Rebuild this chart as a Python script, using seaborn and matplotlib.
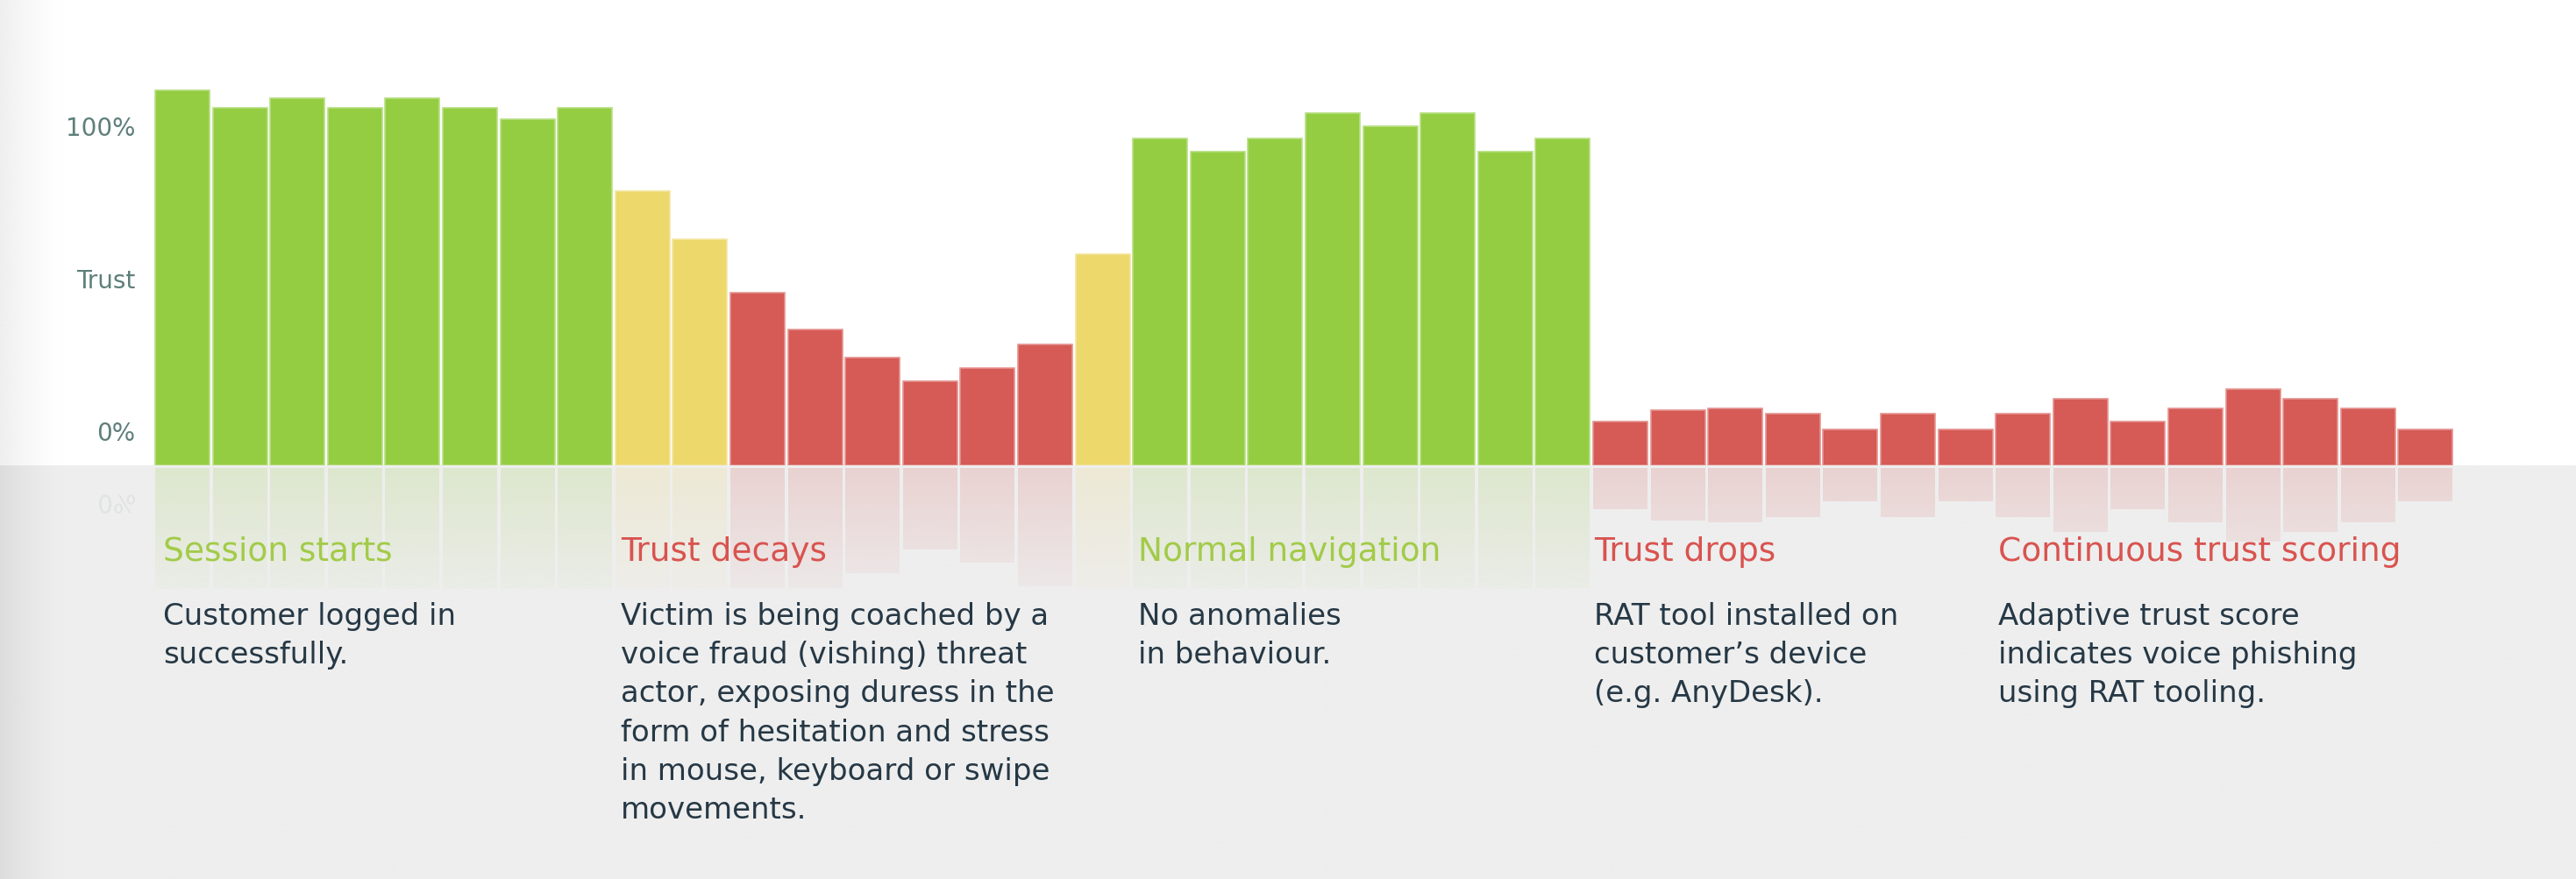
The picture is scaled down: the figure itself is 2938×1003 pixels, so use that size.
'''
    Trust score over a session, with reflected bars and phase notes
'''

# --
# Dependancies

import matplotlib
matplotlib.use('Agg')
import matplotlib.pyplot as plt
import matplotlib.colors as mcolors
from matplotlib.textpath import TextPath
from matplotlib.patches import PathPatch
from matplotlib.font_manager import FontProperties
import matplotlib.transforms as mtransforms
import seaborn as sns
import pandas as pd
import numpy as np

# --
# Data

trust = [110.3, 105.2, 108.1, 105.2, 108.1, 105.2, 101.9, 105.2,
         80.7, 66.6, 50.7, 40.0, 31.7, 24.8, 28.7, 35.5, 62.0,
         96.2, 92.3, 96.2, 103.6, 99.7, 103.6, 92.3, 96.2,
         12.8, 16.2, 16.8, 15.1, 10.6, 15.1, 10.6, 15.1, 19.7, 12.8, 16.8, 22.5, 19.7, 16.8, 10.6]
phase = ['ok'] * 8 + ['warn'] * 2 + ['risk'] * 6 + ['warn'] + ['ok'] * 8 + ['risk'] * 15

tick_pos = [10.3, 55.2, 100]
tick_labels = ['0%', 'Trust', '100%']

titles = ['Session starts', 'Trust decays', 'Normal navigation', 'Trust drops', 'Continuous trust scoring']
title_phase = ['ok', 'risk', 'ok', 'risk', 'risk']
notes = [
    ['Customer logged in', 'successfully.'],
    ['Victim is being coached by a', 'voice fraud (vishing) threat', 'actor, exposing duress in the',
     'form of hesitation and stress', 'in mouse, keyboard or swipe', 'movements.'],
    ['No anomalies', 'in behaviour.'],
    ['RAT tool installed on', 'customer\u2019s device', '(e.g. AnyDesk).'],
    ['Adaptive trust score', 'indicates voice phishing', 'using RAT tooling.'],
]
note_x = [186, 708, 1298, 1818, 2279]   # px from left

df = pd.DataFrame({'step': range(len(trust)), 'trust': trust, 'phase': phase})
df['mirror'] = -df['trust']

# --
# Style

bar_colors = {'ok': '#94cd42', 'warn': '#ecd86b', 'risk': '#d65a55'}
title_colors = {'ok': '#a2cb48', 'risk': '#d9534f'}
bg_gray = '#eeeeee'
font = 'DejaVu Sans'

W, H = 2938, 1004
base_px = 532          # baseline, px from top
k = 3.88               # px per unit
pitch = 65.6
bar0_c = 208.0
ax_left = 160.0

fig = plt.figure(figsize=(W / 100, H / 100), dpi=100, facecolor='white')

# --
# Background: gray floor + soft left shading

bg = fig.add_axes([0, 0, 1, 1])
bg.axis('off')
bg.axhspan(base_px, H, color=bg_gray, lw=0)

gw = 75
ramp = np.linspace(1, 0, 200) ** 1.5
for c, y0, y1 in [('#efefef', 0, base_px), ('#dddddd', base_px, H)]:
    img = np.ones((1, 200, 4))
    img[0, :, :3] = mcolors.to_rgb(c)
    img[0, :, 3] = ramp
    bg.imshow(img, extent=[0, gw, y1, y0], aspect='auto', interpolation='bilinear', zorder=1)
bg.set_xlim(0, W)
bg.set_ylim(H, 0)

# mirrored "0%" label in the floor
fp = FontProperties(family=font)
tp = TextPath((0, 0), '0%', size=28, prop=fp)
ext = tp.get_extents()
tr = mtransforms.Affine2D().translate(154 - ext.x1, 566) + bg.transData
bg.add_patch(PathPatch(tp, transform=tr, color='#e1e3e3', lw=0, zorder=2))

# --
# Bars

ax = fig.add_axes([ax_left / W, 0, 1 - ax_left / W, 1])
ax.set_facecolor('none')

sns.barplot(data=df, x='step', y='trust', hue='phase', palette=bar_colors, saturation=1,
            dodge=False, width=62 / pitch, legend=False, linewidth=0, ax=ax)
n_main = len(ax.patches)
sns.barplot(data=df, x='step', y='mirror', hue='phase', palette=bar_colors, saturation=1,
            dodge=False, width=62 / pitch, legend=False, linewidth=0, alpha=0.19, ax=ax)

for p in ax.patches[:n_main]:
    fc = np.array(p.get_facecolor()[:3])
    p.set_edgecolor(tuple(fc + (1 - fc) * 0.35))
    p.set_linewidth(1.2)

xl = ((ax_left - bar0_c) / pitch, (W - bar0_c) / pitch)
yl = ((base_px - H) / k, base_px / k)

# fade the reflection out
fade_units = 36
rows = 400
ys = np.linspace(0, yl[0], rows)
a = np.where(ys > -fade_units, (-ys / fade_units) * 0.8, 1.0)
fade = np.ones((rows, 2, 4))
fade[:, :, :3] = mcolors.to_rgb(bg_gray)
fade[:, :, 3] = a[:, None]
ax.imshow(fade, extent=[xl[0], xl[1], yl[0], 0], origin='upper', aspect='auto',
          interpolation='bilinear', zorder=3)
ax.axhspan(-0.8, 0, color=bg_gray, lw=0, zorder=3.5)

ax.set_xlim(*xl)
ax.set_ylim(*yl)
for s in ax.spines.values():
    s.set_visible(False)
ax.set_xticks([])
ax.set_xlabel('')
ax.set_ylabel('')
ax.set_yticks(tick_pos)
ax.set_yticklabels(tick_labels, fontsize=20, color='#5e7f7a', fontfamily=font)
ax.tick_params(axis='y', length=0, pad=4)

# --
# Phase notes

for i, (t, lines) in enumerate(zip(titles, notes)):
    x = note_x[i] / W
    fig.text(x, 1 - 640 / H, t, fontsize=27, color=title_colors[title_phase[i]],
             family=font, ha='left', va='baseline')
    for j, line in enumerate(lines):
        fig.text(x, 1 - (713 + j * 44.2) / H, line, fontsize=24.5, color='#263845',
                 family=font, ha='left', va='baseline')

fig.savefig('out.png', dpi=100, facecolor='white')
